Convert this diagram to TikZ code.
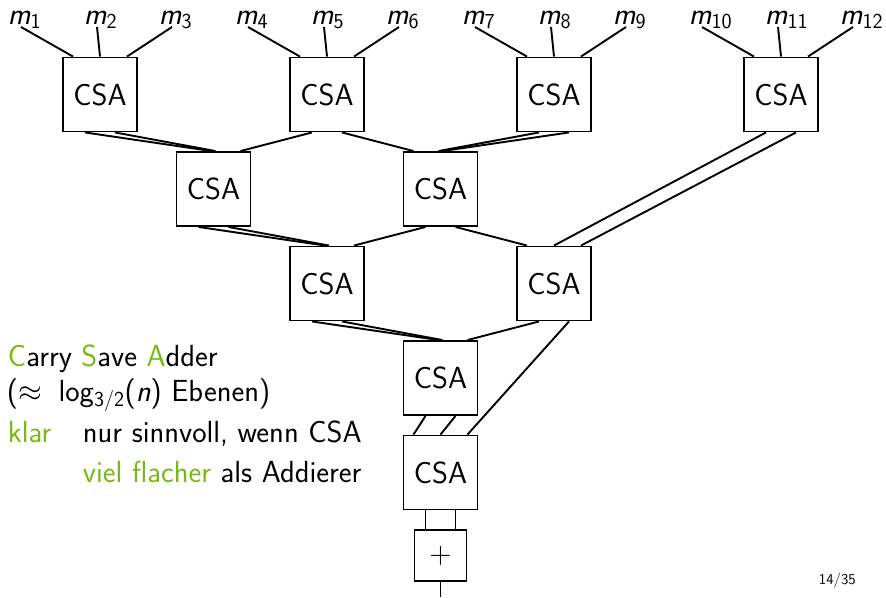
\RequirePackage{fix-cm}
\documentclass[tikz,border=0pt]{standalone}
\usepackage{fontspec}
\renewcommand\familydefault{\sfdefault}
\usetikzlibrary{calc}
\definecolor{lgreen}{RGB}{120,185,20}
\newcommand\mlab[1]{{\itshape m}\textsubscript{#1}}
\newcommand\csaedge[4]{\draw ($(#1.south)+(#2,0)$) -- ($(#3.north)+(#4,0)$);}
\begin{document}
\begin{tikzpicture}[x=1pt,y=-1pt,line width=1.9pt,
  every node/.style={font=\fontsize{30.5}{36}\selectfont},
  csa/.style={draw,minimum width=74pt,minimum height=74pt,inner sep=0pt},
  addbox/.style={draw,minimum width=52pt,minimum height=51pt,inner sep=0pt},
  txt/.style={anchor=base west,inner sep=0pt}]
\useasboundingbox (0,0) rectangle (886,597);

% CSA boxes
\node[csa] (b11) at (100,94.5) {CSA};
\node[csa] (b12) at (327,94.5) {CSA};
\node[csa] (b13) at (554,94.5) {CSA};
\node[csa] (b14) at (781,94.5) {CSA};
\node[csa] (b21) at (213.5,189) {CSA};
\node[csa] (b22) at (440.5,189) {CSA};
\node[csa] (b31) at (327,283.5) {CSA};
\node[csa] (b32) at (554,283.5) {CSA};
\node[csa] (b4) at (440.5,378) {CSA};
\node[csa] (b5) at (440.5,472.5) {CSA};
\node[addbox] (add) at (440.5,555.5) {$+$};
\coordinate (out) at (440.5,597);

% inputs
\foreach \k/\cx/\a/\b/\c in {1/100/1/2/3,2/327/4/5/6,3/554/7/8/9,4/781/10/11/12}{
  \coordinate (i\a) at (\cx-79,27);
  \coordinate (i\b) at (\cx-3,27);
  \coordinate (i\c) at (\cx+72,27);
  \node[txt] (m\a) at (\cx-93,24) {\mlab{\a}};
  \node[txt] (m\b) at (\cx-17,24) {\mlab{\b}};
  \node[txt] (m\c) at (\cx+58,24) {\mlab{\c}};
  \draw ($(b1\k.north)+(-27,0)$) -- (i\a);
  \draw (b1\k.north) -- (i\b);
  \draw ($(b1\k.north)+(27,0)$) -- (i\c);
}

% level 1 -> 2
\csaedge{b11}{-15}{b21}{-2}
\csaedge{b11}{15}{b21}{2}
\csaedge{b12}{-15}{b21}{27}
\csaedge{b12}{15}{b22}{-27}
\csaedge{b13}{-15}{b22}{-2}
\csaedge{b13}{15}{b22}{2}
\csaedge{b14}{-15}{b32}{0}
\csaedge{b14}{15}{b32}{27}
% level 2 -> 3
\csaedge{b21}{-15}{b31}{-2}
\csaedge{b21}{15}{b31}{2}
\csaedge{b22}{-15}{b31}{27}
\csaedge{b22}{15}{b32}{-27}
% level 3 -> 4
\csaedge{b31}{-15}{b4}{-2}
\csaedge{b31}{15}{b4}{2}
\csaedge{b32}{-15}{b4}{27}
\csaedge{b32}{15}{b5}{27}
% level 4 -> 5
\csaedge{b4}{-15}{b5}{-27}
\csaedge{b4}{15}{b5}{0}
% to adder
\csaedge{b5}{-15}{add}{-15}
\csaedge{b5}{15}{add}{15}
\draw (add.south) -- (out);

% text
\node[txt] (t1) at (7,366) {\textcolor{lgreen}{C}arry \textcolor{lgreen}{S}ave \textcolor{lgreen}{A}dder};
\node[txt] (t2) at (6,401) {(\(\approx\)\hspace{0.55em}log\textsubscript{3/2}(\textit{n}) Ebenen)};
\node[txt] (t3) at (7,442) {\textcolor{lgreen}{klar}};
\node[txt] (t4) at (82,442) {nur sinnvoll, wenn CSA};
\node[txt] (t5) at (82,482) {\textcolor{lgreen}{viel flacher} als Addierer};
\node[txt,font=\fontsize{15}{18}\selectfont] (pg) at (818,584) {14/35};
\end{tikzpicture}
\end{document}
